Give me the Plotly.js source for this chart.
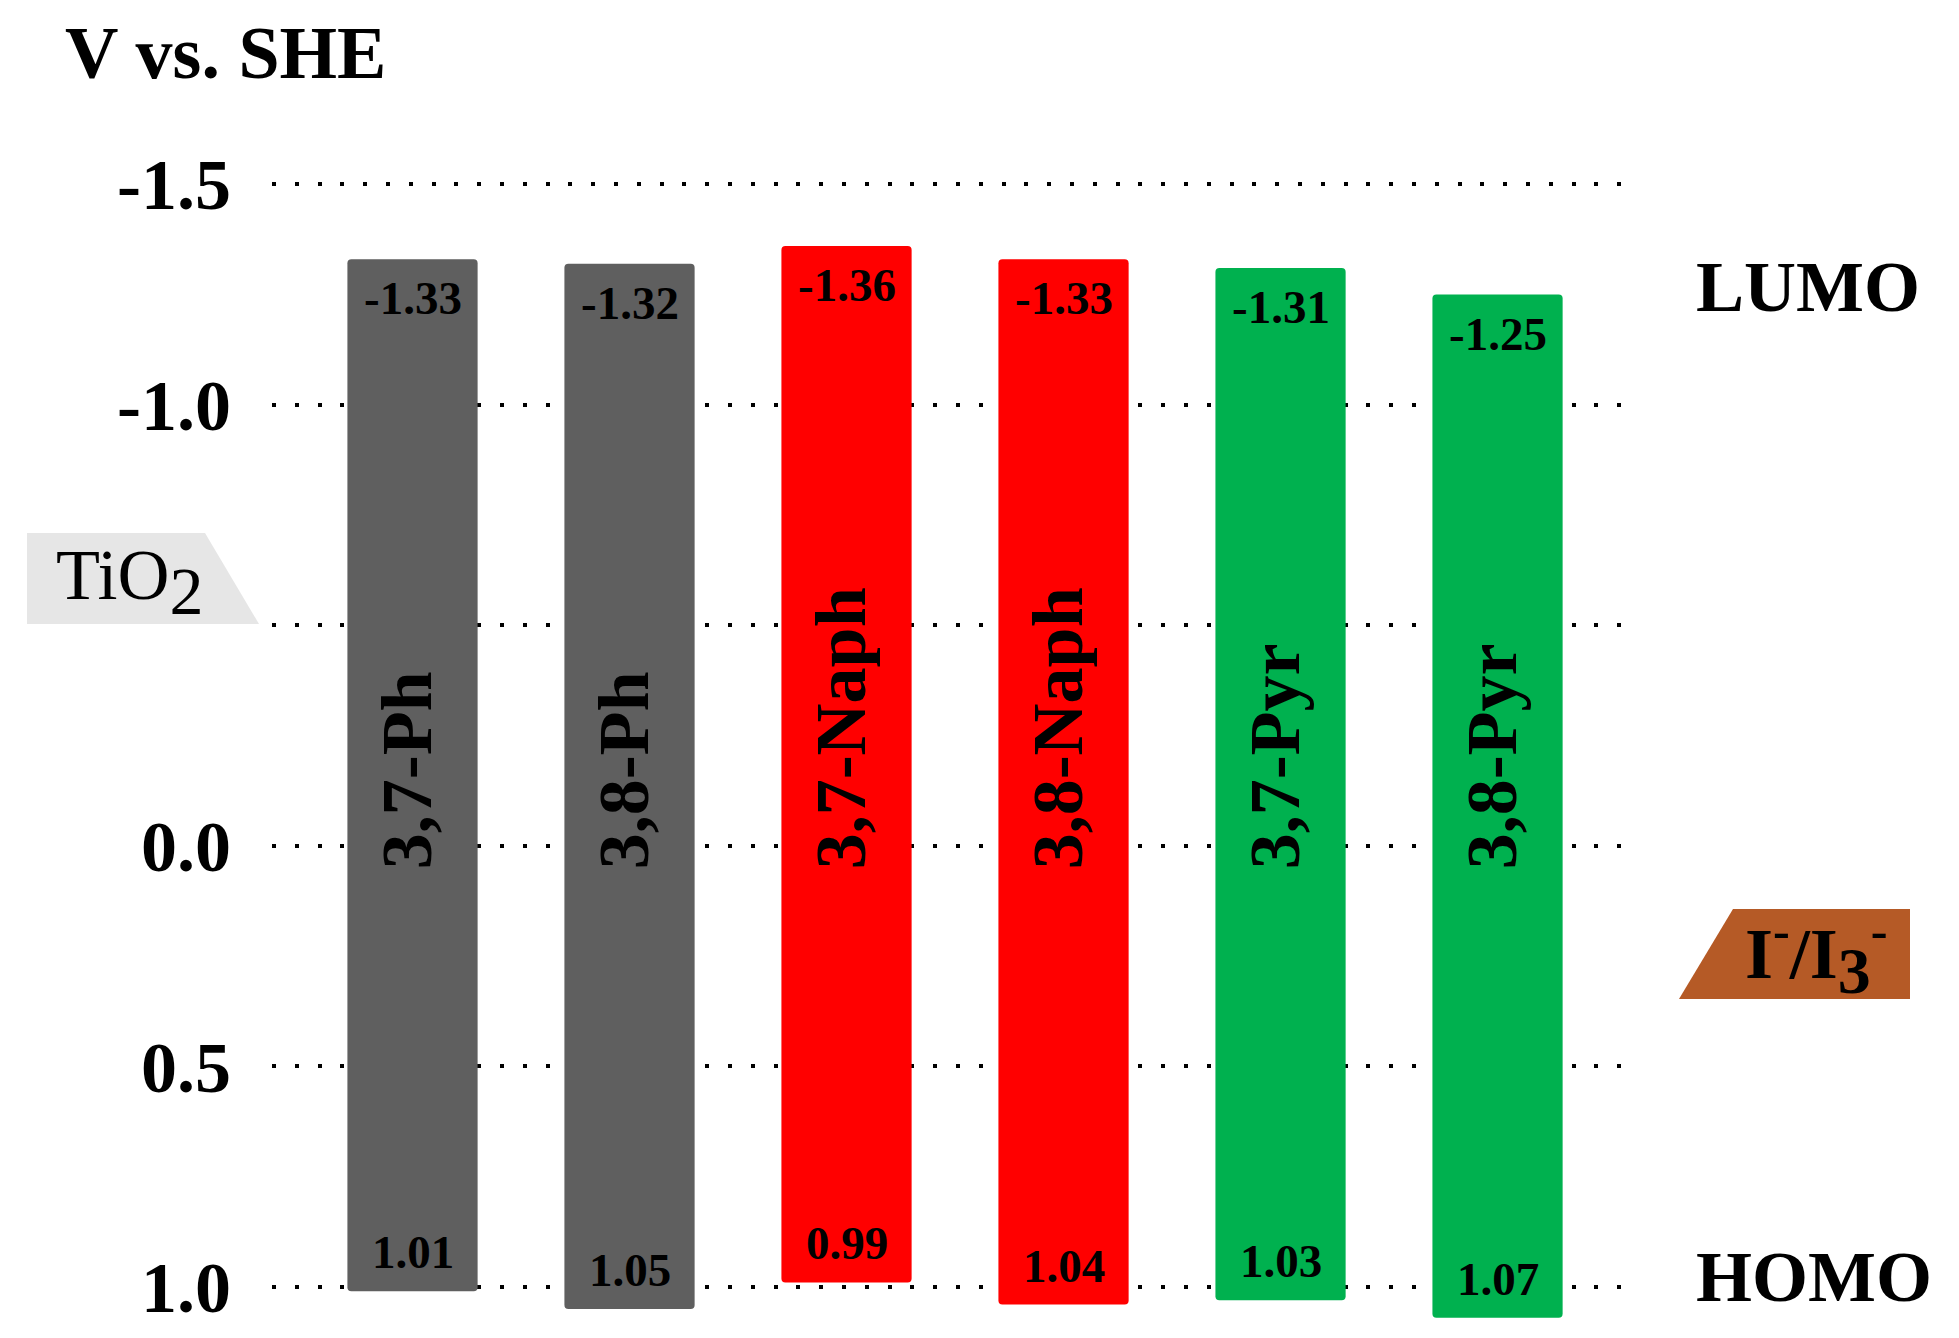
<!DOCTYPE html>
<html>
<head>
<meta charset="utf-8">
<script src="https://cdn.plot.ly/plotly-3.0.1.min.js"></script>
<style>html,body{margin:0;padding:0;background:#fff;}#chart{width:1959px;height:1338px;}</style>
</head>
<body>
<div id="chart"></div>
<script>
// ---- data ----
const categories = ['3,7-Ph', '3,8-Ph', '3,7-Naph', '3,8-Naph', '3,7-Pyr', '3,8-Pyr'];
const lumo = [-1.33, -1.32, -1.36, -1.33, -1.31, -1.25];
const homo = [1.01, 1.05, 0.99, 1.04, 1.03, 1.07];
const barColors = ['#5f5f5f', '#5f5f5f', '#ff0000', '#ff0000', '#00b14f', '#00b14f'];
const tickVals = [-1.5, -1.0, -0.5, 0.0, 0.5, 1.0];
const tickText = ['-1.5', '-1.0', ' ', '0.0', '0.5', '1.0'];

// ---- layout helpers ----
const W = 1959, H = 1338;
const M = {l: 272, r: 333, t: 74, b: 7};
const pw = W - M.l - M.r, ph = H - M.t - M.b;
const px = p => (p - M.l) / pw;
const py = p => (H - M.b - p) / ph;
const FONT = 'Liberation Serif, Times New Roman, serif';

function pathPaper(pts) {
  return 'M ' + pts.map(p => px(p[0]).toFixed(5) + ',' + py(p[1]).toFixed(5)).join(' L ') + ' Z';
}

const barTrace = {
  type: 'bar',
  x: categories,
  base: lumo,
  y: homo.map((h, i) => h - lumo[i]),
  width: 0.6,
  marker: {color: barColors, line: {width: 0}, cornerradius: 4},
  hoverinfo: 'skip',
  showlegend: false
};

const annotations = [];
categories.forEach((c, i) => {
  annotations.push({
    x: c, y: 0, xref: 'x', yref: 'y', text: c, showarrow: false, textangle: -90,
    xanchor: 'center', yanchor: 'bottom', yshift: -26, xshift: -6,
    font: {family: FONT, size: 72, color: '#000', weight: 'bold'}
  });
  annotations.push({
    x: c, y: lumo[i], xref: 'x', yref: 'y', text: lumo[i].toFixed(2), showarrow: false,
    xanchor: 'center', yanchor: 'top', yshift: -11,
    font: {family: FONT, size: 47, color: '#000', weight: 'bold'}
  });
  annotations.push({
    x: c, y: homo[i], xref: 'x', yref: 'y', text: homo[i].toFixed(2), showarrow: false,
    xanchor: 'center', yanchor: 'bottom', yshift: 11,
    font: {family: FONT, size: 47, color: '#000', weight: 'bold'}
  });
});

annotations.push({
  xref: 'paper', yref: 'paper', x: px(1808), y: py(287), text: 'LUMO', showarrow: false,
  xanchor: 'center', yanchor: 'middle', font: {family: FONT, size: 72, color: '#000', weight: 'bold'}
});
annotations.push({
  xref: 'paper', yref: 'paper', x: px(1814), y: py(1277), text: 'HOMO', showarrow: false,
  xanchor: 'center', yanchor: 'middle', font: {family: FONT, size: 72, color: '#000', weight: 'bold'}
});
annotations.push({
  xref: 'paper', yref: 'paper', x: px(54), y: py(582), text: 'TiO<sub><span style="font-size:68px">2</span></sub>', showarrow: false,
  xanchor: 'left', yanchor: 'middle', font: {family: FONT, size: 72, color: '#000'}
});
annotations.push({
  xref: 'paper', yref: 'paper', x: px(1743), y: py(955), text: 'I<sup>-</sup>/I<sub><span style="font-size:66px">3</span></sub><sup>-</sup>', showarrow: false,
  xanchor: 'left', yanchor: 'middle', font: {family: FONT, size: 72, color: '#000', weight: 'bold'}
});

const shapes = [
  {type: 'path', xref: 'paper', yref: 'paper', layer: 'below',
   path: pathPaper([[27, 533], [205, 533], [259, 624], [27, 624]]),
   fillcolor: '#e6e6e6', line: {width: 0}},
  {type: 'path', xref: 'paper', yref: 'paper', layer: 'below',
   path: pathPaper([[1733, 909], [1910, 909], [1910, 999], [1679, 999]]),
   fillcolor: '#b55a26', line: {width: 0}}
];

const layout = {
  width: W, height: H,
  margin: M,
  paper_bgcolor: '#ffffff', plot_bgcolor: '#ffffff',
  title: {
    text: 'V vs. SHE', xref: 'container', yref: 'container',
    x: 65 / W, xanchor: 'left', y: 1 - 52 / H, yanchor: 'middle',
    font: {family: FONT, size: 74, color: '#000', weight: 'bold'}
  },
  xaxis: {
    type: 'category', range: [-0.6475, 5.592], showticklabels: false, showgrid: false,
    zeroline: false, showline: false, ticks: ''
  },
  yaxis: {
    range: [1.1, -1.75], tickmode: 'array', tickvals: tickVals, ticktext: tickText,
    showgrid: true, gridcolor: '#000', gridwidth: 4, griddash: '4px,18.8px',
    zeroline: false, showline: false, ticks: '', ticklabelstandoff: 40,
    tickfont: {family: FONT, size: 72, color: '#000', weight: 'bold'}
  },
  shapes: shapes,
  annotations: annotations,
  bargap: 0.4,
  showlegend: false
};

Plotly.newPlot('chart', [barTrace], layout, {staticPlot: true, displayModeBar: false});
</script>
</body>
</html>
